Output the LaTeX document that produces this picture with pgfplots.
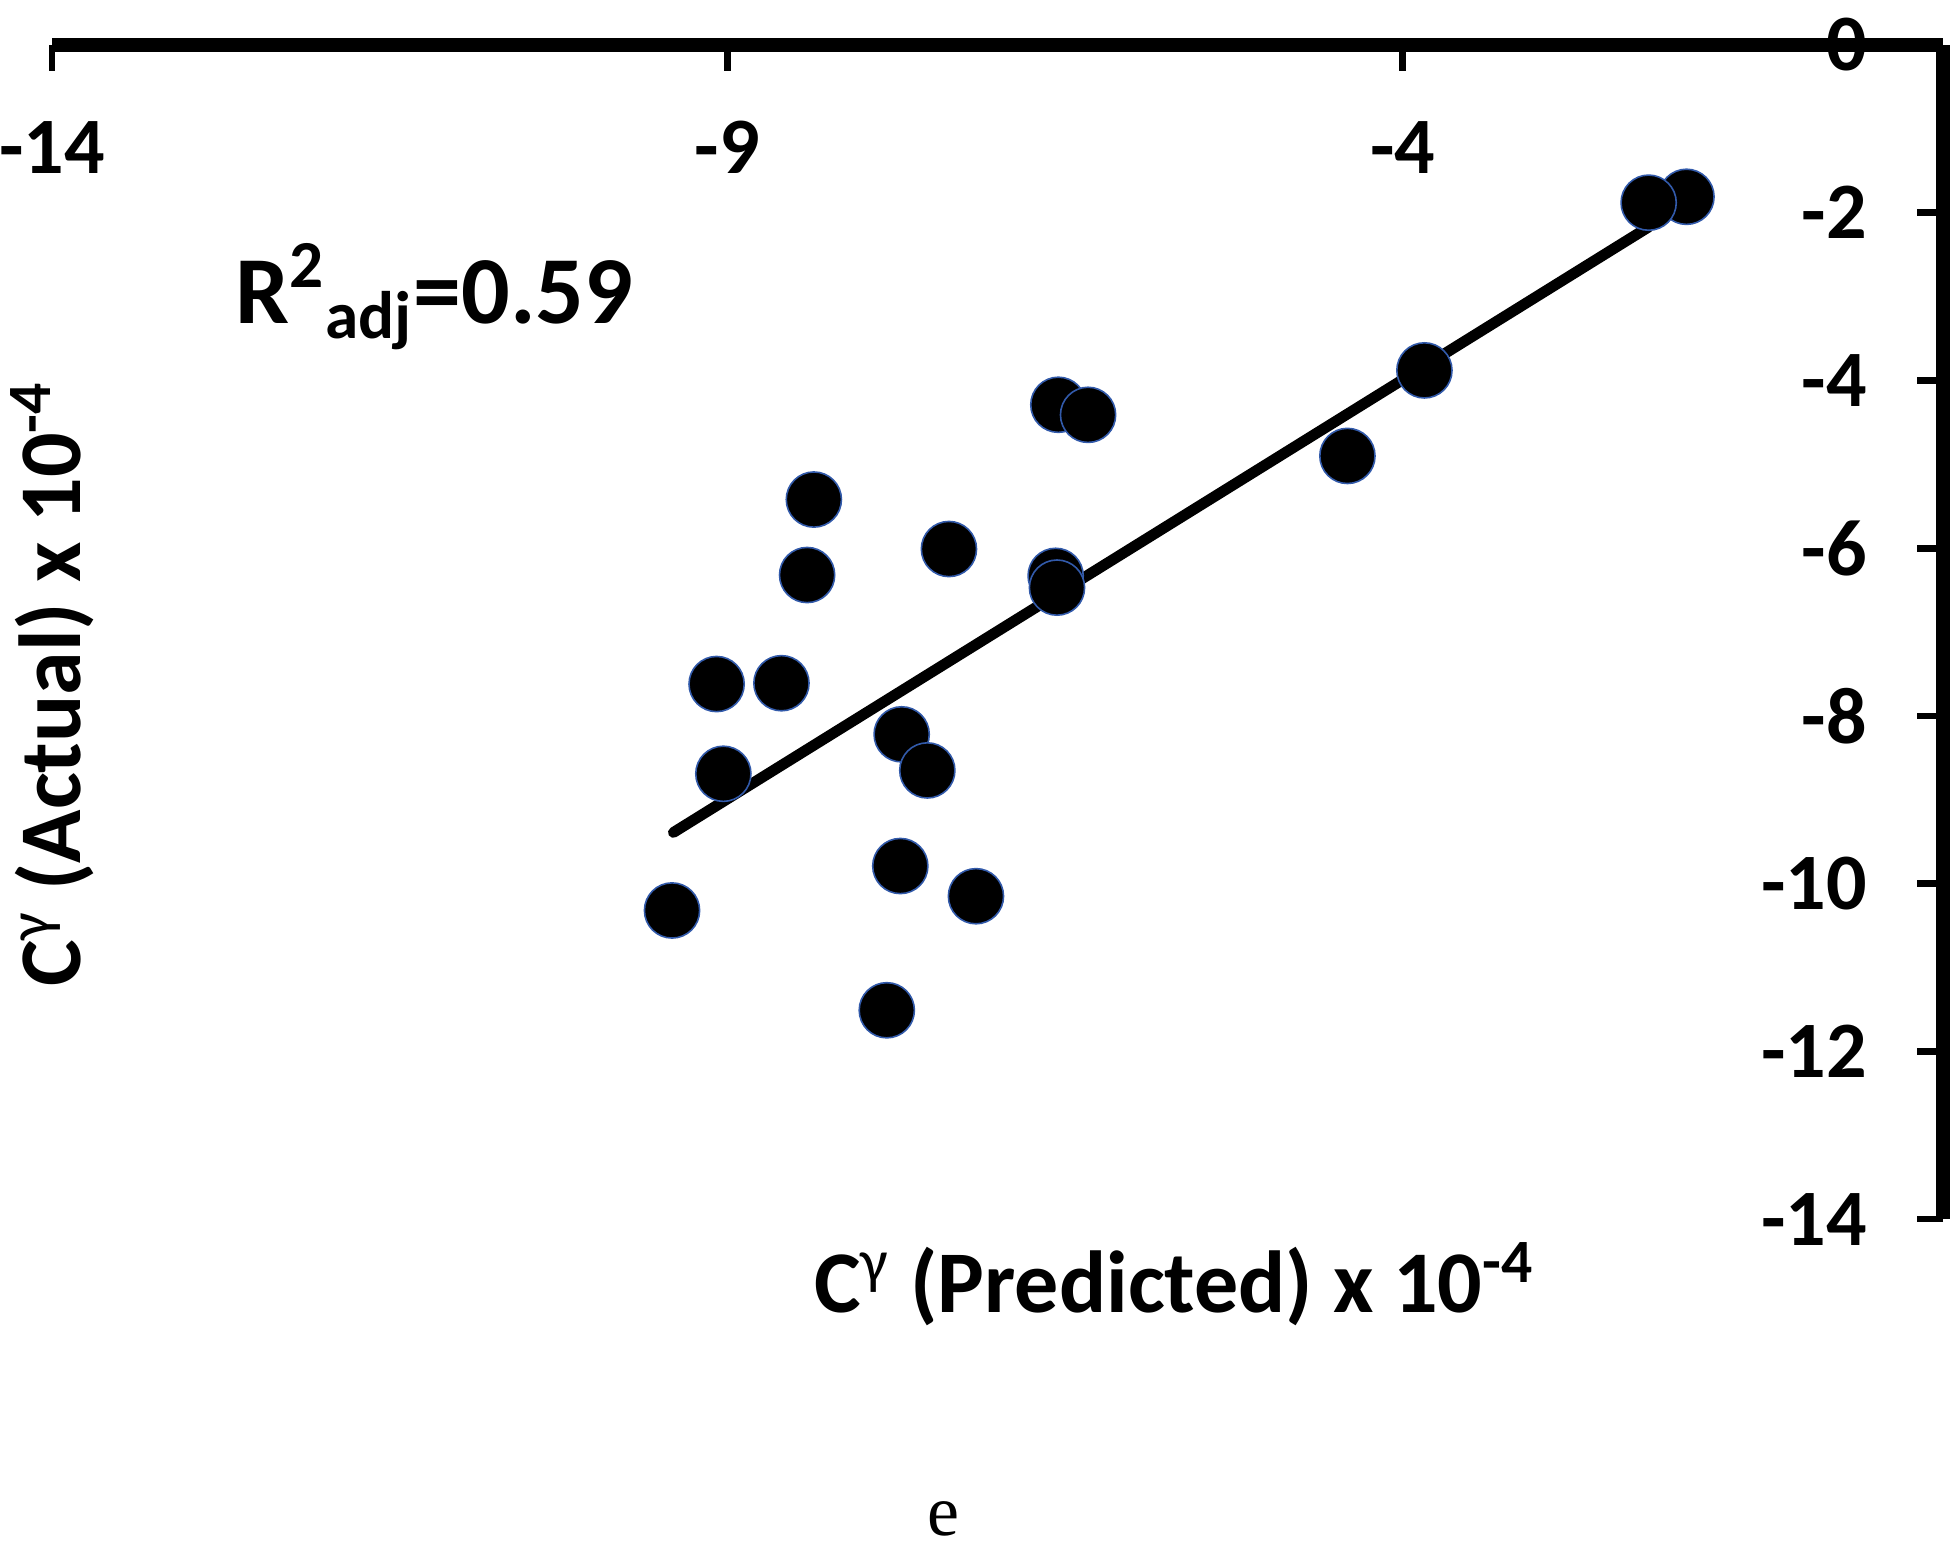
\documentclass[border=0pt]{standalone}
\usepackage{pgfplots}
\pgfplotsset{compat=1.18}
\usepackage{fontspec}
\setmainfont{Carlito}
\newfontfamily\seriffont{Liberation Serif}

\definecolor{markedge}{RGB}{50,90,170}

% predicted vs actual
\pgfplotstableread{
x y
-1.90 -1.81
-2.18 -1.88
-3.84 -3.88
-4.41 -4.90
-6.55 -4.29
-6.33 -4.41
-8.36 -5.42
-8.41 -6.32
-7.36 -6.01
-6.57 -6.33
-6.56 -6.47
-9.08 -7.62
-8.60 -7.61
-9.03 -8.69
-7.71 -8.22
-7.52 -8.65
-7.72 -9.79
-7.16 -10.15
-9.41 -10.32
-7.82 -11.51
}\pts

\begin{document}
\begin{tikzpicture}
\begin{axis}[
    scale only axis,
    width=472.75pt, height=293.5pt,
    xmin=-14, xmax=0, ymin=-14, ymax=0,
    axis x line*=top, axis y line*=right,
    xtick pos=upper, ytick pos=right,
    xticklabel pos=upper, yticklabel pos=right,
    axis line style={-, line width=3.4pt},
    xtick={-14,-9,-4}, xticklabels={-14,-9,-4},
    ytick={0,-2,-4,-6,-8,-10,-12,-14},
    yticklabels={0,-2,-4,-6,-8,-10,-12,-14},
    tick align=inside,
    major tick length=6.5pt,
    every tick/.style={black, line width=1.7pt},
    tick label style={font=\fontsize{20}{24}\selectfont\bfseries},
    xticklabel style={anchor=north, yshift=-15.5pt},
    yticklabel style={anchor=east, xshift=-15.5pt},
    clip=false,
]
\addplot[black, line width=2.7pt, line cap=round] coordinates {(-9.40,-9.39) (-2.18,-2.17)};
\addplot[only marks, mark=*, mark size=6.9pt,
    mark options={fill=black, draw=markedge, line width=0.4pt}] table[x=x, y=y] {\pts};

\node[anchor=base west, inner sep=0pt, font=\fontsize{24}{28}\selectfont\bfseries]
    at (axis cs:-12.65,-3.32) {R\textsuperscript{2}\textsubscript{adj}=0.59};
\node[anchor=base, inner sep=0pt, font=\fontsize{22}{26}\selectfont\bfseries]
    at (axis cs:-5.69,-15.11) {C\textsuperscript{\mdseries γ} (Predicted) x 10\textsuperscript{-4}};
\node[rotate=90, inner sep=0pt, font=\fontsize{22}{26}\selectfont\bfseries]
    at (axis cs:-14,-7.62) {C\textsuperscript{\mdseries γ} (Actual) x 10\textsuperscript{-4}};
\node[anchor=base, inner sep=0pt, font=\seriffont\fontsize{18}{20}\selectfont]
    at (axis cs:-7.40,-17.77) {e};

\coordinate (bbll) at (axis cs:-14.385,-17.98);
\coordinate (bbur) at (axis cs:0.051,0.537);
\end{axis}
\pgfresetboundingbox
\path[use as bounding box] (bbll) rectangle (bbur);
\end{tikzpicture}
\end{document}
